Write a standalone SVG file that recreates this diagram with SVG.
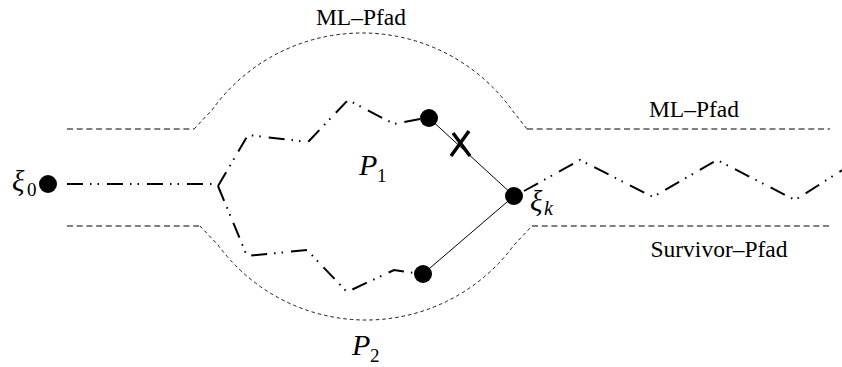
<svg xmlns="http://www.w3.org/2000/svg" width="842" height="367" viewBox="0 0 842 367">
<style>
.bound{fill:none;stroke:#000;stroke-width:1;stroke-dasharray:6 3.7}
.curve{fill:none;stroke:#000;stroke-width:0.9;stroke-dasharray:3.5 3}
.path{fill:none;stroke:#000;stroke-width:2;stroke-dasharray:16 7 1.5 6 1.5 8;stroke-linejoin:miter}
.thin{fill:none;stroke:#000;stroke-width:1}
.dot{fill:#000}
text{font-family:"Liberation Serif","DejaVu Serif",serif;fill:#000}
.lbl{font-size:23.5px}
.math{font-style:italic}
</style>
<rect width="842" height="367" fill="#fff"/>
<g id="boundaries">
<path class="bound" d="M67,129 H194"/>
<path class="curve" d="M194,129 L212,110 A184.6 184.6 0 0 1 512,110 L527,129"/>
<path class="bound" d="M527,129 H830"/>
<path class="bound" d="M67,226 H200"/>
<path class="curve" d="M200,226 L218,245 A183.5 183.5 0 0 0 514,245 L532,226"/>
<path class="bound" d="M532,226 H830"/>
</g>
<g id="connectors">
<path class="path" d="M67,184 H216"/>
<path class="path" d="M218,186 L248,135 L308,142 L348,100 L394,124 L420,119"/>
<path class="path" d="M218,186 L247,256 L307,250 L347,292 L394,270 L414,273"/>
<path class="path" d="M524,191 L580,160 L653,197 L717,160 L795,200 L852,164"/>
<line class="thin" x1="429" y1="118" x2="514" y2="196"/>
<line class="thin" x1="423" y1="274" x2="514" y2="196"/>
</g>
<g id="cut">
<path d="M451,156 L469,131 M453,133 L470,156" fill="none" stroke="#000" stroke-width="3.5"/>
</g>
<g id="xi0">
<circle class="dot" cx="48" cy="184" r="9"/>
<text class="math" x="12" y="191" font-size="29">ξ</text>
<text x="27" y="196" font-size="19">0</text>
</g>
<g id="node-upper">
<circle class="dot" cx="429" cy="118" r="9"/>
</g>
<g id="node-lower">
<circle class="dot" cx="423" cy="274" r="9"/>
</g>
<g id="xik">
<circle class="dot" cx="514" cy="196" r="9"/>
<text class="math" x="530" y="211" font-size="29">ξ</text>
<text class="math" x="544" y="215" font-size="20">k</text>
</g>
<g id="labels">
<text class="lbl" x="361" y="25" text-anchor="middle">ML–Pfad</text>
<text class="lbl" x="694" y="117" text-anchor="middle">ML–Pfad</text>
<text class="lbl" x="719" y="257" text-anchor="middle">Survivor–Pfad</text>
<text class="math" x="359" y="175" font-size="30">P</text>
<text x="377" y="182" font-size="19">1</text>
<text class="math" x="352" y="355" font-size="30">P</text>
<text x="370" y="362" font-size="19">2</text>
</g>
</svg>
